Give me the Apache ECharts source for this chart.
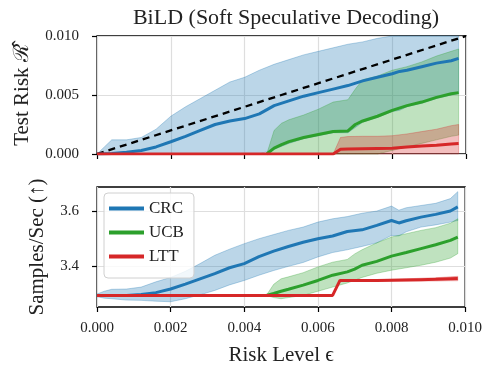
<!DOCTYPE html>
<html><head><meta charset="utf-8">
<script src="https://cdn.jsdelivr.net/npm/echarts@6/dist/echarts.min.js"></script>
<style>html,body{margin:0;padding:0;background:#fff}#c{width:485px;height:370px}</style>
</head><body><div id="c"></div>
<script>
// ---------- data ----------
const crcX = [0, 0.0002, 0.0004, 0.0008, 0.0012, 0.0016, 0.002, 0.0024, 0.0028, 0.0032, 0.0036, 0.004, 0.0044, 0.0048, 0.0052, 0.0056, 0.006, 0.0064, 0.0068, 0.0072, 0.0076, 0.008, 0.0082, 0.0084, 0.0088, 0.0092, 0.0096, 0.0098];
const ucbX = [0.0046, 0.0048, 0.005, 0.0052, 0.0056, 0.006, 0.0064, 0.0068, 0.007, 0.0072, 0.0076, 0.008, 0.0084, 0.0088, 0.0092, 0.0096, 0.0098];
const lttX = [0, 0.0064, 0.0066, 0.0068, 0.0072, 0.0076, 0.008, 0.0084, 0.0088, 0.0092, 0.0096, 0.0098];

// Test risk (top panel)
const riskCrcMean = [0, 0.00002, 0.00005, 0.00015, 0.0003, 0.0006, 0.00104, 0.0015, 0.002, 0.0025, 0.0028, 0.003, 0.0034, 0.0041, 0.0045, 0.0049, 0.0052, 0.0055, 0.0058, 0.0062, 0.0065, 0.0068, 0.007, 0.0071, 0.0074, 0.0077, 0.0079, 0.0081];
const riskCrcHi = [0, 0.0006, 0.0012, 0.0012, 0.0014, 0.0021, 0.0032, 0.004, 0.0047, 0.0054, 0.0061, 0.0065, 0.0071, 0.0076, 0.008, 0.0084, 0.0087, 0.009, 0.0093, 0.0095, 0.0098, 0.0101, 0.0103, 0.0104, 0.0106, 0.0108, 0.011, 0.0111];
const riskCrcLo = [0, 0, 0, 0, 0, 0, 0, 0, 0, 0, 0, 0, 0, 0.0004, 0.0009, 0.0013, 0.00155, 0.0018, 0.0018, 0.0027, 0.0031, 0.0036, 0.0037, 0.004, 0.0043, 0.0047, 0.005, 0.0051];
const riskUcbMean = [0, 0.0005, 0.0008, 0.00105, 0.0014, 0.00165, 0.0019, 0.00195, 0.0025, 0.0028, 0.0032, 0.0037, 0.0041, 0.0044, 0.0048, 0.0051, 0.0052];
const riskUcbHi = [0, 0.002, 0.0026, 0.0029, 0.0033, 0.0038, 0.0044, 0.0046, 0.0055, 0.0063, 0.0066, 0.0071, 0.0074, 0.0078, 0.0083, 0.0087, 0.0089];
const riskUcbLo = [0, 0, 0, 0, 0, 0, 0, 0, 0, 0, 0, 0.0003, 0.0006, 0.0009, 0.0012, 0.0015, 0.0016];
const riskLttMean = [0, 0, 0.0004, 0.00042, 0.00044, 0.00046, 0.00048, 0.0006, 0.00068, 0.00075, 0.00085, 0.0009];
const riskLttHi = [0, 0, 0.0014, 0.00148, 0.0015, 0.0015, 0.00155, 0.0017, 0.0019, 0.0021, 0.0024, 0.0025];
const riskLttLo = [0, 0, 0, 0, 0, 0, 0, 0, 0, 0, 0, 0];
const diagX = [0, 0.01];
const diagY = [0, 0.01];

// Samples / sec (bottom panel)
const spsCrcMean = [3.295, 3.295, 3.295, 3.295, 3.298, 3.305, 3.318, 3.336, 3.355, 3.374, 3.395, 3.41, 3.435, 3.455, 3.472, 3.487, 3.5, 3.51, 3.526, 3.532, 3.548, 3.566, 3.557, 3.565, 3.578, 3.588, 3.6, 3.615];
const spsCrcHi = [3.3, 3.31, 3.317, 3.318, 3.325, 3.344, 3.36, 3.382, 3.41, 3.44, 3.462, 3.482, 3.5, 3.515, 3.53, 3.542, 3.56, 3.572, 3.58, 3.592, 3.6, 3.618, 3.603, 3.612, 3.62, 3.628, 3.645, 3.67];
const spsCrcLo = [3.29, 3.285, 3.283, 3.278, 3.277, 3.274, 3.272, 3.283, 3.297, 3.313, 3.333, 3.349, 3.368, 3.385, 3.4, 3.414, 3.434, 3.45, 3.46, 3.472, 3.485, 3.512, 3.51, 3.525, 3.542, 3.55, 3.56, 3.566];
const spsUcbMean = [3.295, 3.302, 3.31, 3.317, 3.332, 3.349, 3.368, 3.38, 3.39, 3.404, 3.418, 3.437, 3.45, 3.464, 3.478, 3.494, 3.506];
const spsUcbHi = [3.295, 3.335, 3.355, 3.362, 3.377, 3.398, 3.415, 3.425, 3.445, 3.46, 3.485, 3.506, 3.518, 3.53, 3.54, 3.556, 3.572];
const spsUcbLo = [3.295, 3.287, 3.283, 3.287, 3.295, 3.31, 3.325, 3.34, 3.35, 3.36, 3.375, 3.386, 3.395, 3.404, 3.415, 3.43, 3.446];
const spsLttMean = [3.295, 3.295, 3.349, 3.349, 3.349, 3.349, 3.35, 3.351, 3.352, 3.353, 3.355, 3.356];
const spsLttHi = [3.295, 3.295, 3.35, 3.351, 3.351, 3.352, 3.353, 3.355, 3.357, 3.359, 3.362, 3.364];
const spsLttLo = [3.295, 3.295, 3.348, 3.347, 3.347, 3.346, 3.347, 3.347, 3.347, 3.347, 3.348, 3.348];

const xTickLabels = ['0.000', '0.002', '0.004', '0.006', '0.008', '0.010'];
const spsTicks = [3.4, 3.6];
const methods = ['CRC', 'UCB', 'LTT'];

// ---------- chart ----------
const C = { CRC: [31, 119, 180], UCB: [44, 160, 44], LTT: [214, 39, 40] };
const rgba = (k, a) => 'rgba(' + C[k].join(',') + ',' + a + ')';
const FONT = '"Liberation Serif", "DejaVu Serif", serif';
const pair = (xs, ys) => xs.map((x, i) => [x, ys[i]]);

function band(key, gi, xs, lo, hi) {
  return {
    name: key + '-band' + gi, type: 'custom', xAxisIndex: gi, yAxisIndex: gi, silent: true, z: 2,
    data: xs.map((x, i) => [x, lo[i], hi[i]]),
    encode: { x: 0, y: [1, 2] },
    renderItem: function (params, api) {
      if (params.dataIndex !== 0) return null;
      const up = [], dn = [];
      for (let i = 0; i < xs.length; i++) {
        up.push(api.coord([xs[i], hi[i]]));
        dn.push(api.coord([xs[i], lo[i]]));
      }
      const cs = params.coordSys;
      const rect = { x: cs.x, y: cs.y, width: cs.width, height: cs.height };
      const pts = echarts.graphic.clipPointsByRect(up.concat(dn.reverse()), rect);
      return { type: 'polygon', shape: { points: pts },
        style: { fill: rgba(key, 0.3), stroke: rgba(key, 0.3), lineWidth: 1 } };
    }
  };
}
function meanLine(key, gi, xs, ys) {
  return { name: key, type: 'line', xAxisIndex: gi, yAxisIndex: gi, data: pair(xs, ys), symbol: 'none',
    z: 3, itemStyle: { color: rgba(key, 1) }, lineStyle: { color: rgba(key, 1), width: 3 } };
}

const series = [
  band('CRC', 0, crcX, riskCrcLo, riskCrcHi),
  band('UCB', 0, ucbX, riskUcbLo, riskUcbHi),
  band('LTT', 0, lttX, riskLttLo, riskLttHi),
  { name: 'diag', type: 'line', xAxisIndex: 0, yAxisIndex: 0, data: pair(diagX, diagY), symbol: 'none', z: 3,
    lineStyle: { color: '#000', width: 2.3, type: [7, 5] } },
  meanLine('CRC', 0, crcX, riskCrcMean), meanLine('UCB', 0, ucbX, riskUcbMean), meanLine('LTT', 0, lttX, riskLttMean),
  band('CRC', 1, crcX, spsCrcLo, spsCrcHi),
  band('UCB', 1, ucbX, spsUcbLo, spsUcbHi),
  band('LTT', 1, lttX, spsLttLo, spsLttHi),
  meanLine('CRC', 1, crcX, spsCrcMean), meanLine('UCB', 1, ucbX, spsUcbMean), meanLine('LTT', 1, lttX, spsLttMean),
  { name: 'hgrid', type: 'line', xAxisIndex: 1, yAxisIndex: 1, data: [], silent: true, z: 1,
    markLine: { silent: true, symbol: 'none', z: 1, label: { show: false }, animation: false,
      lineStyle: { color: '#dedede', width: 1.2, type: 'solid' }, data: spsTicks.map(v => ({ yAxis: v })) } }
];

const gridLine = { show: true, lineStyle: { color: '#dedede', width: 1.2 } };
const tick = { show: true, inside: false, length: 5, lineStyle: { color: '#000', width: 1.2 } };
const labelStyle = { fontFamily: FONT, fontSize: 15, color: '#222' };
const nameStyle = { fontFamily: FONT, fontSize: 21, color: '#222' };

const option = {
  animation: false,
  backgroundColor: '#fff',
  title: { text: 'BiLD (Soft Speculative Decoding)', left: 281, top: 2, textAlign: 'center',
    textStyle: { fontFamily: FONT, fontSize: 22, fontWeight: 'normal', color: '#222' } },
  legend: {
    data: methods, orient: 'vertical', left: 104, top: 193, icon: 'rect', itemWidth: 35, itemHeight: 4, itemGap: 7,
    padding: [7, 10, 13, 5], z: 10, backgroundColor: 'rgba(255,255,255,0.8)', borderColor: '#d0d0d0', borderWidth: 1, borderRadius: 4,
    textStyle: { fontFamily: FONT, fontSize: 17, color: '#222', lineHeight: 17 }
  },
  grid: [
    { left: 97, right: 19, top: 36, height: 118, show: true, borderColor: '#000', borderWidth: 1.3, backgroundColor: 'transparent' },
    { left: 97, right: 19, top: 187, height: 120, show: true, borderColor: '#000', borderWidth: 1.3, backgroundColor: 'transparent' }
  ],
  xAxis: [
    { type: 'value', gridIndex: 0, min: 0, max: 0.01, interval: 0.002, axisLine: { show: false }, axisTick: tick,
      axisLabel: { show: false }, splitLine: gridLine },
    { type: 'value', gridIndex: 1, min: 0, max: 0.01, interval: 0.002, axisLine: { show: false }, axisTick: tick,
      axisLabel: Object.assign({ margin: 14, formatter: (v) => xTickLabels[Math.round(v / 0.002)] }, labelStyle),
      splitLine: gridLine,
      name: 'Risk Level ϵ', nameLocation: 'middle', nameGap: 38, nameTextStyle: nameStyle }
  ],
  yAxis: [
    { type: 'value', gridIndex: 0, min: 0, max: 0.01, interval: 0.005, axisLine: { show: false }, axisTick: tick,
      axisLabel: Object.assign({ margin: 18, formatter: (v) => v.toFixed(3) }, labelStyle),
      splitLine: gridLine,
      name: 'Test Risk ℛ̂', nameLocation: 'middle', nameGap: 64, nameTextStyle: nameStyle },
    { type: 'value', gridIndex: 1, min: 3.253, max: 3.687, axisLine: { show: false },
      axisTick: Object.assign({ customValues: spsTicks }, tick),
      axisLabel: Object.assign({ margin: 18, customValues: spsTicks, formatter: (v) => v.toFixed(1) }, labelStyle),
      splitLine: { show: false },
      name: 'Samples/Sec (↑)', nameLocation: 'middle', nameGap: 49, nameTextStyle: nameStyle }
  ],
  series: series
};

const chart = echarts.init(document.getElementById('c'), null, { renderer: 'canvas' });
chart.setOption(option);
</script>
</body></html>
